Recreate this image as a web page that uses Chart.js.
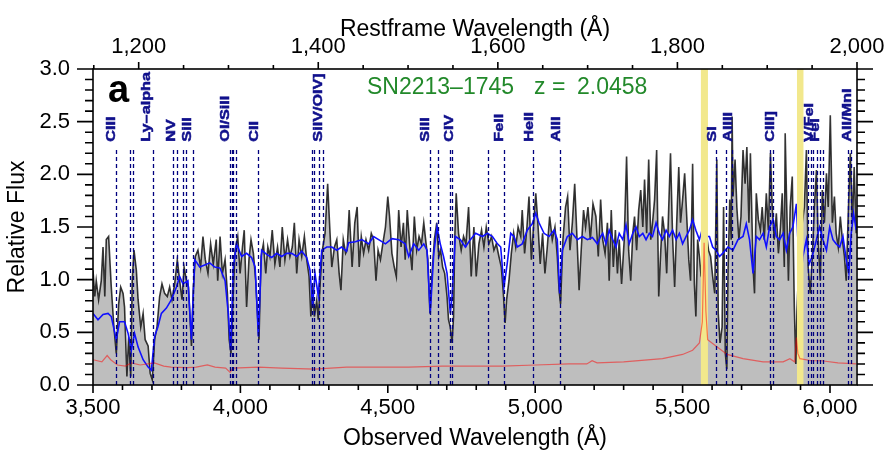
<!DOCTYPE html>
<html>
<head>
<meta charset="utf-8">
<script src="https://cdn.jsdelivr.net/npm/chart.js@4.4.1/dist/chart.umd.min.js"></script>
<style>
  html, body { margin: 0; padding: 0; background: #fff; }
</style>
</head>
<body>
<canvas id="spec" width="887" height="453"></canvas>
<script>
// SN2213-1745 spectrum, panel a
const Z = 2.0458;
const FONT = "'Liberation Sans', Arial, Helvetica, sans-serif";

// observed spectrum (black, filled grey)
const obsWave = [3500,3506,3511,3519,3528,3534,3540,3545,3553,3562,3571,3579,3587,3594,3602,3607,3615,3621,3628,3633,3639,3647,3653,3662,3670,3677,3687,3694,3701,3709,3717,3726,3734,3743,3752,3760,3768,3777,3786,3794,3802,3809,3817,3824,3834,3840,3847,3856,3865,3873,3881,3890,3899,3908,3918,3923,3931,3939,3948,3956,3962,3968,3976,3982,3991,3999,4007,4013,4021,4029,4036,4044,4052,4059,4063,4070,4078,4086,4093,4100,4108,4117,4126,4134,4142,4151,4160,4168,4176,4183,4191,4199,4208,4217,4225,4233,4239,4245,4251,4259,4264,4271,4278,4287,4296,4303,4310,4319,4327,4335,4341,4349,4357,4362,4369,4379,4388,4396,4403,4410,4418,4426,4435,4444,4452,4460,4467,4475,4483,4492,4500,4506,4514,4522,4529,4537,4545,4553,4559,4566,4574,4582,4590,4598,4606,4614,4622,4630,4636,4643,4650,4658,4666,4673,4679,4686,4693,4701,4706,4712,4718,4723,4727,4732,4740,4749,4757,4765,4774,4783,4792,4800,4809,4818,4826,4834,4843,4852,4860,4868,4877,4885,4892,4898,4903,4911,4919,4927,4934,4942,4951,4956,4964,4972,4979,4987,4995,5002,5009,5017,5025,5033,5041,5049,5058,5067,5075,5081,5086,5094,5103,5110,5118,5126,5134,5142,5149,5156,5164,5171,5179,5187,5196,5206,5214,5222,5229,5237,5245,5251,5258,5265,5272,5279,5285,5293,5302,5310,5317,5324,5331,5337,5344,5351,5358,5365,5371,5378,5385,5392,5398,5405,5412,5419,5426,5432,5439,5446,5453,5459,5466,5473,5480,5487,5493,5500,5507,5514,5521,5527,5534,5540,5545,5551,5557,5562,5568,5575,5582,5588,5595,5602,5609,5616,5621,5627,5634,5639,5645,5650,5654,5660,5665,5668,5671,5678,5684,5691,5698,5705,5712,5718,5725,5730,5739,5744,5750,5757,5764,5770,5777,5784,5791,5798,5804,5811,5818,5825,5832,5838,5845,5848,5852,5859,5865,5872,5879,5884,5888,5894,5899,5906,5913,5920,5926,5933,5940,5947,5954,5960,5967,5974,5981,5988,5994,6001,6008,6015,6021,6028,6035,6042,6049,6055,6062,6069,6076,6082,6089];
const obsFlux = [1.09,0.84,0.99,0.81,0.99,1.31,0.84,1.38,1.41,0.93,0.55,0.30,0.77,0.93,0.87,0.74,0.08,0.46,0.08,0.99,1.28,1.09,0.81,0.55,0.68,0.43,0.37,0.11,0.05,0.43,0.55,0.84,0.96,0.87,0.84,0.93,0.81,0.96,1.19,0.99,0.81,1.12,0.99,0.93,0.37,0.90,1.22,1.28,1.12,1.41,1.19,1.06,1.34,1.15,1.38,0.99,1.41,1.06,1.19,0.87,0.43,0.30,0.90,1.28,1.41,1.06,1.31,1.47,0.74,1.19,1.38,1.25,0.99,0.62,0.43,1.22,1.34,1.06,1.31,1.22,1.47,1.15,1.31,1.12,1.50,1.19,1.38,1.22,1.31,1.54,1.06,1.38,1.22,1.41,1.19,1.03,0.65,0.93,0.65,0.81,0.62,0.99,1.28,1.44,1.91,1.50,1.12,1.31,1.38,1.06,0.90,1.38,1.25,1.28,1.66,1.12,1.54,1.69,1.12,1.41,1.25,1.38,1.28,1.44,1.38,0.99,1.28,1.19,1.34,1.50,1.79,1.60,1.25,1.12,1.03,1.66,1.31,1.54,1.19,1.66,1.34,1.09,1.60,1.28,1.41,1.34,1.54,1.34,1.19,0.68,1.06,1.38,1.54,1.22,1.28,1.12,1.06,0.84,0.62,0.55,0.40,0.65,1.38,1.82,1.44,1.28,1.41,1.34,1.69,1.03,1.50,1.03,1.34,1.47,1.31,1.50,1.34,1.41,1.28,1.34,1.22,1.12,0.87,0.59,0.81,0.99,1.25,1.44,1.31,1.50,1.41,1.66,1.25,1.50,1.79,1.19,1.54,1.82,1.54,1.15,1.44,1.06,1.31,1.60,1.38,1.50,1.22,0.90,0.77,1.38,1.69,1.79,1.28,1.54,1.91,1.38,0.90,1.28,1.66,1.50,1.69,1.38,1.72,1.60,1.22,1.76,1.38,1.25,1.54,0.99,1.66,1.12,1.47,1.06,1.38,0.96,1.38,2.17,1.28,0.99,1.44,1.60,1.28,1.66,1.85,1.50,1.95,1.44,2.14,1.38,1.54,1.76,2.23,0.84,1.28,1.60,1.44,1.06,1.69,2.20,1.41,0.93,1.54,2.07,1.54,1.76,2.01,1.60,1.19,0.99,2.10,0.96,0.65,1.38,1.22,1.06,1.12,1.31,1.41,1.28,1.22,1.03,0.87,2.14,0.68,0.40,0.55,1.69,0.30,0.15,1.06,1.76,1.38,2.55,1.79,2.14,1.69,1.38,1.60,2.23,1.91,2.26,1.54,2.20,1.12,0.87,1.82,1.57,1.47,1.69,1.38,1.82,1.47,2.20,1.69,1.38,1.63,1.25,1.50,1.82,1.12,2.39,1.85,0.99,1.69,1.98,0.74,0.20,0.71,1.12,1.28,1.54,1.69,2.23,1.12,0.87,1.22,1.69,2.04,1.38,0.99,1.85,1.54,2.01,1.69,2.56,1.54,1.79,1.44,1.31,1.60,1.38,1.22,0.99,1.63,2.20,1.54,2.07,1.44];

// smoothed comparison spectrum (blue)
const fitWave = [3500,3517,3534,3551,3562,3579,3590,3607,3619,3630,3641,3653,3670,3687,3698,3709,3720,3732,3749,3766,3783,3794,3805,3822,3834,3845,3862,3879,3896,3913,3931,3948,3959,3967,3976,3987,4004,4021,4038,4050,4061,4072,4089,4106,4123,4140,4157,4174,4191,4208,4225,4236,4245,4253,4264,4276,4293,4310,4327,4343,4360,4367,4390,4412,4435,4452,4469,4492,4514,4537,4559,4571,4588,4605,4622,4633,4644,4656,4667,4678,4689,4701,4712,4718,4729,4746,4763,4780,4798,4821,4838,4855,4872,4883,4894,4905,4917,4928,4939,4956,4973,4990,5002,5013,5030,5047,5064,5075,5083,5092,5109,5126,5143,5160,5177,5194,5211,5222,5229,5240,5251,5263,5274,5285,5297,5308,5319,5331,5342,5353,5365,5376,5387,5398,5410,5421,5432,5444,5455,5466,5478,5489,5500,5512,5523,5534,5545,5557,5568,5579,5591,5602,5613,5625,5636,5654,5671,5688,5705,5716,5727,5739,5750,5761,5773,5784,5795,5807,5818,5829,5841,5852,5863,5874,5886,5891,5899,5908,5920,5929,5940,5954,5965,5976,5988,5999,6010,6021,6033,6044,6055,6064,6072,6080,6089];
const fitFlux = [0.68,0.62,0.67,0.68,0.65,0.43,0.60,0.60,0.49,0.33,0.49,0.36,0.24,0.17,0.14,0.46,0.55,0.68,0.73,0.81,0.93,1.03,0.96,0.99,0.43,1.19,1.12,1.14,1.16,1.12,1.11,0.99,0.68,0.33,1.12,1.34,1.22,1.25,1.21,1.12,0.46,1.28,1.24,1.21,1.25,1.22,1.25,1.25,1.22,1.27,1.21,1.09,0.75,1.06,0.85,1.28,1.31,1.31,1.28,1.31,1.27,1.35,1.36,1.38,1.34,1.41,1.38,1.34,1.39,1.38,1.34,1.22,1.34,1.28,1.34,1.28,0.68,1.25,1.50,1.34,1.22,1.06,0.68,0.84,1.41,1.38,1.31,1.38,1.44,1.41,1.44,1.41,1.34,1.31,0.93,1.15,1.44,1.41,1.31,1.34,1.47,1.53,1.63,1.54,1.44,1.41,1.47,1.38,0.87,1.28,1.41,1.44,1.38,1.41,1.38,1.40,1.34,1.41,1.44,1.34,1.47,1.38,1.31,1.44,1.38,1.52,1.34,1.44,1.50,1.41,1.44,1.38,1.44,1.41,1.54,1.44,1.38,1.47,1.41,1.47,1.38,1.44,1.34,1.41,1.47,1.57,1.47,1.38,1.49,1.41,1.41,1.31,1.28,1.22,1.25,1.31,1.28,1.38,1.41,1.53,1.38,1.06,1.41,1.38,1.44,1.31,1.50,1.57,1.41,1.38,1.44,1.28,1.44,1.50,1.72,1.38,0.96,1.22,1.38,1.15,1.22,1.38,1.50,1.38,1.28,1.50,1.38,1.34,1.31,1.41,1.19,1.06,1.44,1.63,1.47];

// noise / sky spectrum (red)
const errWave = [3500,3530,3548,3560,3583,3610,3630,3660,3708,3740,3765,3821,3850,3888,3914,3950,3965,3975,4061,4140,4253,4360,4458,4571,4684,4791,4888,5001,5114,5175,5193,5210,5300,5432,5500,5534,5557,5567,5573,5579,5585,5613,5651,5705,5773,5841,5864,5880,5886,5891,5898,5937,5971,6027,6089];
const errFlux = [0.24,0.22,0.28,0.24,0.19,0.18,0.21,0.19,0.21,0.18,0.17,0.165,0.17,0.19,0.17,0.16,0.12,0.16,0.17,0.16,0.15,0.17,0.17,0.17,0.18,0.18,0.18,0.19,0.20,0.20,0.23,0.21,0.22,0.25,0.29,0.33,0.40,0.60,1.35,0.70,0.43,0.37,0.29,0.25,0.22,0.22,0.25,0.22,0.45,0.30,0.25,0.23,0.23,0.21,0.20];

// sky line regions (observed A)
const skyBands = [[5562, 5586], [5888, 5910]];

// absorption line markers (observed A)
const lineWaves = [3577,3625,3635,3704,3771,3784,3806,3815,3838,3965,3970,3976,3985,4060,4242,4250,4268,4279,4644,4669,4712,4718,4840,4894,4994,5083,5615,5647,5666,5797,5806,5925,5936,5944,5956,5967,5976,6061,6072];
const lineTop = 2.26;
const labelNames = ['CIII','Ly–alpha','NV','SiII','OI/SiII','CII','SiIV/OIV]','SiII','CIV','FeII','HeII','AlII','SI','AlIII','CIII]','V/FeI','FeI','AlI/MnI'];
const labelWaves = [3574,3693,3778,3834,3961,4060,4277,4640,4721,4891,4993,5084,5613,5668,5810,5942,5963,6071];
const labelBase = 2.31;

// axis ticks
const obsTicks = [3500, 4000, 4500, 5000, 5500, 6000];
const restTicks = [1200, 1400, 1600, 1800, 2000];

const tickFont = { family: FONT, size: 22 };
const titleFont = { family: FONT, size: 23 };
const fmt = v => Number(v).toLocaleString('en-US');

const skyBandPlugin = {
  id: 'skyBands',
  beforeDatasetDraw(chart, args) {
    if (chart.data.datasets[args.index].label !== 'error') return;
    const { ctx, chartArea: a, scales: { x } } = chart;
    ctx.save();
    ctx.fillStyle = '#f2e88c';
    skyBands.forEach(([w0, w1]) => {
      const p0 = x.getPixelForValue(w0), p1 = x.getPixelForValue(w1);
      ctx.fillRect(p0, a.top, p1 - p0, a.bottom - a.top);
    });
    ctx.restore();
  }
};

const lineIdPlugin = {
  id: 'lineIds',
  afterDatasetsDraw(chart) {
    const { ctx, scales: { x, y } } = chart;
    ctx.save();
    ctx.strokeStyle = '#00007f';
    ctx.lineWidth = 1.3;
    ctx.setLineDash([4, 3]);
    lineWaves.forEach(w => {
      const px = Math.round(x.getPixelForValue(w)) + 0.5;
      ctx.beginPath();
      ctx.moveTo(px, y.getPixelForValue(0));
      ctx.lineTo(px, y.getPixelForValue(lineTop));
      ctx.stroke();
    });
    ctx.setLineDash([]);
    ctx.fillStyle = '#10108c';
    ctx.strokeStyle = '#10108c';
    ctx.lineWidth = 0.5;
    ctx.font = 'bold 13.5px ' + FONT;
    ctx.textAlign = 'left';
    ctx.textBaseline = 'alphabetic';
    labelNames.forEach((name, i) => {
      ctx.save();
      ctx.translate(x.getPixelForValue(labelWaves[i]), y.getPixelForValue(labelBase));
      ctx.rotate(-Math.PI / 2);
      ctx.scale(1.2, 1);
      ctx.fillText(name, 0, 0);
      ctx.strokeText(name, 0, 0);
      ctx.restore();
    });
    ctx.restore();
  }
};

const framePlugin = {
  id: 'frame',
  afterDraw(chart) {
    const { ctx, chartArea: a, scales: { x, x2, y } } = chart;
    ctx.save();
    ctx.strokeStyle = '#000';
    ctx.lineWidth = 1.6;
    ctx.beginPath();
    // bottom: 100 A minor, 500 A major
    for (let w = 3500; w <= x.max; w += 100) {
      const px = x.getPixelForValue(w), len = w % 500 === 0 ? 8 : 5;
      ctx.moveTo(px, a.bottom); ctx.lineTo(px, a.bottom + len);
    }
    // top: restframe, 50 A minor, 200 A major
    for (let r = 1150; r <= x2.max; r += 50) {
      const px = x2.getPixelForValue(r), len = r % 200 === 0 ? 7 : 4;
      ctx.moveTo(px, a.top); ctx.lineTo(px, a.top - len);
    }
    // left/right: 0.1 minor, 0.5 major
    for (let k = 0; k <= 30; k++) {
      const py = y.getPixelForValue(k / 10), len = k % 5 === 0 ? 16 : 8;
      ctx.moveTo(a.left, py); ctx.lineTo(a.left - len, py);
      ctx.moveTo(a.right, py); ctx.lineTo(a.right + len, py);
    }
    ctx.stroke();
    ctx.strokeRect(a.left, a.top, a.right - a.left, a.bottom - a.top);

    ctx.fillStyle = '#000';
    ctx.font = 'bold 38px ' + FONT;
    ctx.textBaseline = 'alphabetic';
    ctx.fillText('a', a.left + 15, a.top + 33);
    ctx.fillStyle = '#22892a';
    ctx.font = '23px ' + FONT;
    ctx.fillText('SN2213–1745', 367, 94);
    ctx.fillText('z =', 534, 94);
    ctx.fillText('2.0458', 577, 94);
    ctx.restore();
  }
};

new Chart(document.getElementById('spec'), {
  type: 'line',
  data: {
    datasets: [
      {
        label: 'error',
        data: errWave.map((w, i) => ({ x: w, y: errFlux[i] })),
        borderColor: 'rgba(255,0,0,0.5)',
        borderWidth: 1.2,
        pointRadius: 0,
        fill: false,
        order: 1,
      },
      {
        label: 'template',
        data: fitWave.map((w, i) => ({ x: w, y: fitFlux[i] })),
        borderColor: '#1010ff',
        borderWidth: 1.6,
        pointRadius: 0,
        fill: false,
        order: 2,
      },
      {
        label: 'spectrum',
        data: obsWave.map((w, i) => ({ x: w, y: obsFlux[i] })),
        borderColor: 'rgba(0,0,0,0.78)',
        backgroundColor: '#bebebe',
        borderWidth: 1.6,
        pointRadius: 0,
        fill: 'origin',
        order: 3,
      },
    ],
  },
  options: {
    responsive: false,
    devicePixelRatio: 1,
    animation: false,
    layout: { padding: { left: 0, right: 30, top: 0, bottom: 0 } },
    plugins: { legend: { display: false }, tooltip: { enabled: false } },
    scales: {
      x: {
        type: 'linear',
        position: 'bottom',
        min: 3500,
        max: 2000 * (1 + Z),
        afterFit: s => { s.height = 68; },
        afterBuildTicks: s => { s.ticks = obsTicks.map(v => ({ value: v })); },
        border: { display: false },
        grid: { display: false, drawTicks: true, tickLength: 8 },
        ticks: { autoSkip: false, maxRotation: 0, padding: 2, color: '#000', font: tickFont, callback: fmt },
        title: { display: true, text: 'Observed Wavelength (Å)', color: '#000', font: titleFont, padding: { top: 0, bottom: 1 } },
      },
      x2: {
        type: 'linear',
        position: 'top',
        min: 3500 / (1 + Z),
        max: 2000,
        afterFit: s => { s.height = 69; },
        afterBuildTicks: s => { s.ticks = restTicks.map(v => ({ value: v })); },
        border: { display: false },
        grid: { display: false, drawTicks: true, tickLength: 7 },
        ticks: { autoSkip: false, maxRotation: 0, padding: 2, color: '#000', font: tickFont, callback: fmt },
        title: { display: true, text: 'Restframe Wavelength (Å)', color: '#000', font: titleFont, padding: { top: 16, bottom: 0 } },
      },
      y: {
        min: 0,
        max: 3,
        afterFit: s => { s.width = 93; },
        border: { display: false },
        grid: { display: false, drawTicks: true, tickLength: 16 },
        ticks: { stepSize: 0.5, padding: 7, color: '#000', font: tickFont, callback: v => v.toFixed(1) },
        title: { display: true, text: 'Relative Flux', color: '#000', font: titleFont, padding: { top: 4, bottom: 0 } },
      },
    },
  },
  plugins: [skyBandPlugin, lineIdPlugin, framePlugin],
});
</script>
</body>
</html>
